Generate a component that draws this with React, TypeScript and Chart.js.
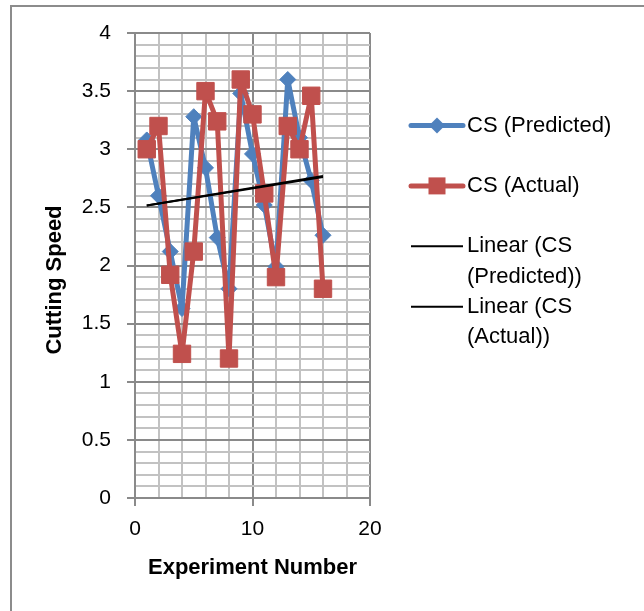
import React, { useEffect, useRef } from 'react';
import { Chart, registerables } from 'chart.js';

Chart.register(...registerables);

// ---- data ----
const experimentNumbers = [1, 2, 3, 4, 5, 6, 7, 8, 9, 10, 11, 12, 13, 14, 15, 16];
const csPredicted = [3.08, 2.6, 2.12, 1.63, 3.28, 2.84, 2.24, 1.8, 3.48, 2.96, 2.52, 1.99, 3.6, 3.1, 2.73, 2.26];
const csActual = [3.0, 3.2, 1.92, 1.24, 2.12, 3.5, 3.24, 1.2, 3.6, 3.3, 2.62, 1.9, 3.2, 3.0, 3.46, 1.8];
const seriesLabels = ['CS (Predicted)', 'CS (Actual)', 'Linear (CS (Predicted))', 'Linear (CS (Actual))'];
const legendLines = [['CS (Predicted)'], ['CS (Actual)'], ['Linear (CS', '(Predicted))'], ['Linear (CS', '(Actual))']];
const xTickLabels = [0, 10, 20];
const yTickLabels = [0, 0.5, 1, 1.5, 2, 2.5, 3, 3.5, 4];
const xAxisTitle = 'Experiment Number';
const yAxisTitle = 'Cutting Speed';

const FONT = '"Liberation Sans", Arial, sans-serif';
const BLUE = '#4F81BD';
const RED = '#C0504D';
const MAJOR = '#8A8A8A';
const MINOR = '#C2C2C2';

function linearTrend(xs: number[], ys: number[]) {
  const n = xs.length;
  const mx = xs.reduce((a, b) => a + b, 0) / n;
  const my = ys.reduce((a, b) => a + b, 0) / n;
  let sxy = 0;
  let sxx = 0;
  for (let i = 0; i < n; i++) {
    sxy += (xs[i] - mx) * (ys[i] - my);
    sxx += (xs[i] - mx) * (xs[i] - mx);
  }
  const slope = sxy / sxx;
  const b = my - slope * mx;
  return [
    { x: xs[0], y: b + slope * xs[0] },
    { x: xs[n - 1], y: b + slope * xs[n - 1] },
  ];
}

const toPoints = (xs: number[], ys: number[]) => xs.map((x, i) => ({ x, y: ys[i] }));
const isIn = (arr: number[], v: number) => arr.some((t) => Math.abs(t - v) < 1e-6);

const framePlugin = {
  id: 'frame',
  beforeDraw(chart: any) {
    const ctx = chart.ctx;
    ctx.save();
    ctx.strokeStyle = '#8C8C8C';
    ctx.lineWidth = 2;
    ctx.strokeRect(11, 6, 1000, 1000);
    ctx.restore();
  },
};

const yTitlePlugin = {
  id: 'yTitle',
  afterDraw(chart: any) {
    const ctx = chart.ctx;
    ctx.save();
    ctx.translate(55, 280);
    ctx.rotate(-Math.PI / 2);
    ctx.font = `bold 22px ${FONT}`;
    ctx.fillStyle = '#000';
    ctx.textAlign = 'center';
    ctx.textBaseline = 'middle';
    ctx.fillText(yAxisTitle, 0, 0);
    ctx.restore();
  },
};

const legendPlugin = {
  id: 'excelLegend',
  afterDraw(chart: any) {
    const ctx = chart.ctx;
    ctx.save();
    const lx0 = 411;
    const lx1 = 463;
    const mx = 437;
    const tx = 467;
    legendLines.forEach((lines, i) => {
      const ds = chart.data.datasets[i];
      const y = 125.5 + i * 60.4;
      ctx.strokeStyle = ds.borderColor;
      ctx.lineWidth = ds.borderWidth;
      ctx.lineCap = ds.borderWidth > 2 ? 'round' : 'butt';
      ctx.beginPath();
      ctx.moveTo(lx0, y);
      ctx.lineTo(lx1, y);
      ctx.stroke();
      ctx.fillStyle = ds.borderColor;
      if (ds.pointStyle === 'rectRot') {
        const r = 8;
        ctx.beginPath();
        ctx.moveTo(mx - r, y);
        ctx.lineTo(mx, y - r);
        ctx.lineTo(mx + r, y);
        ctx.lineTo(mx, y + r);
        ctx.closePath();
        ctx.fill();
      } else if (ds.pointStyle === 'rect') {
        const h = 8.5;
        ctx.fillRect(mx - h, y - h, 2 * h, 2 * h);
      }
      ctx.fillStyle = '#000';
      ctx.font = `22px ${FONT}`;
      ctx.textAlign = 'left';
      ctx.textBaseline = 'middle';
      lines.forEach((line, k) => {
        ctx.fillText(line, tx, y + k * 30.6);
      });
    });
    ctx.restore();
  },
};

export default function App() {
  const ref = useRef<HTMLCanvasElement>(null);

  useEffect(() => {
    const canvas = ref.current;
    if (!canvas) return;
    const chart = new Chart(canvas, {
      type: 'scatter',
      data: {
        datasets: [
          {
            label: seriesLabels[0],
            data: toPoints(experimentNumbers, csPredicted),
            showLine: true,
            borderColor: BLUE,
            backgroundColor: BLUE,
            borderWidth: 5,
            borderJoinStyle: 'round',
            borderCapStyle: 'round',
            pointStyle: 'rectRot',
            pointRadius: 8,
            pointBorderWidth: 1,
            pointBackgroundColor: BLUE,
            pointBorderColor: BLUE,
            tension: 0,
            order: 2,
          },
          {
            label: seriesLabels[1],
            data: toPoints(experimentNumbers, csActual),
            showLine: true,
            borderColor: RED,
            backgroundColor: RED,
            borderWidth: 5,
            borderJoinStyle: 'round',
            borderCapStyle: 'round',
            pointStyle: 'rect',
            pointRadius: 12.3,
            pointBorderWidth: 1,
            pointBackgroundColor: RED,
            pointBorderColor: RED,
            tension: 0,
            order: 1,
          },
          {
            label: seriesLabels[2],
            data: linearTrend(experimentNumbers, csPredicted),
            showLine: true,
            borderColor: '#000',
            backgroundColor: '#000',
            borderWidth: 2,
            pointRadius: 0,
            pointStyle: false as any,
            order: 0,
          },
          {
            label: seriesLabels[3],
            data: linearTrend(experimentNumbers, csActual),
            showLine: true,
            borderColor: '#000',
            backgroundColor: '#000',
            borderWidth: 2,
            pointRadius: 0,
            pointStyle: false as any,
            order: 0,
          },
        ],
      },
      options: {
        animation: false,
        responsive: false,
        maintainAspectRatio: false,
        layout: { padding: { top: 33, right: 274, bottom: 0, left: 0 } },
        plugins: {
          legend: { display: false },
          tooltip: { enabled: false },
        },
        scales: {
          x: {
            type: 'linear',
            position: 'bottom',
            min: 0,
            max: 20,
            ticks: {
              stepSize: 2,
              autoSkip: false,
              maxRotation: 0,
              padding: 11,
              color: '#000',
              font: { family: FONT, size: 21 },
              callback: (v: any) => (isIn(xTickLabels, Number(v)) ? String(Number(v)) : ''),
            },
            grid: {
              color: (c: any) => (isIn(xTickLabels, c.tick?.value) ? MAJOR : MINOR),
              tickColor: (c: any) => (isIn(xTickLabels, c.tick?.value) ? MAJOR : 'rgba(0,0,0,0)'),
              lineWidth: 2,
              tickLength: 8,
            },
            border: { color: MAJOR, width: 2 },
            title: {
              display: true,
              text: xAxisTitle,
              color: '#000',
              font: { family: FONT, size: 22, weight: 'bold' },
              padding: { top: 0, bottom: 30 },
            },
            afterFit: (s: any) => {
              s.height = 113;
            },
          },
          y: {
            type: 'linear',
            min: 0,
            max: 4,
            ticks: {
              stepSize: 0.1,
              autoSkip: false,
              padding: 16,
              color: '#000',
              font: { family: FONT, size: 21 },
              callback: (v: any) => {
                const m = yTickLabels.find((t) => Math.abs(t - Number(v)) < 1e-6);
                return m !== undefined ? String(m) : '';
              },
            },
            grid: {
              color: (c: any) => (isIn(yTickLabels, c.tick?.value) ? MAJOR : MINOR),
              tickColor: (c: any) => (isIn(yTickLabels, c.tick?.value) ? MAJOR : 'rgba(0,0,0,0)'),
              lineWidth: 2,
              tickLength: 8,
            },
            border: { color: MAJOR, width: 2 },
            title: { display: false },
            afterFit: (s: any) => {
              s.width = 135;
            },
          },
        },
      },
      plugins: [framePlugin, yTitlePlugin, legendPlugin],
    } as any);
    return () => chart.destroy();
  }, []);

  return (
    <div style={{ position: 'fixed', left: 0, top: 0, width: 644, height: 611, overflow: 'hidden', background: '#fff' }}>
      <canvas ref={ref} width={644} height={611} style={{ display: 'block', width: 644, height: 611 }} />
    </div>
  );
}
